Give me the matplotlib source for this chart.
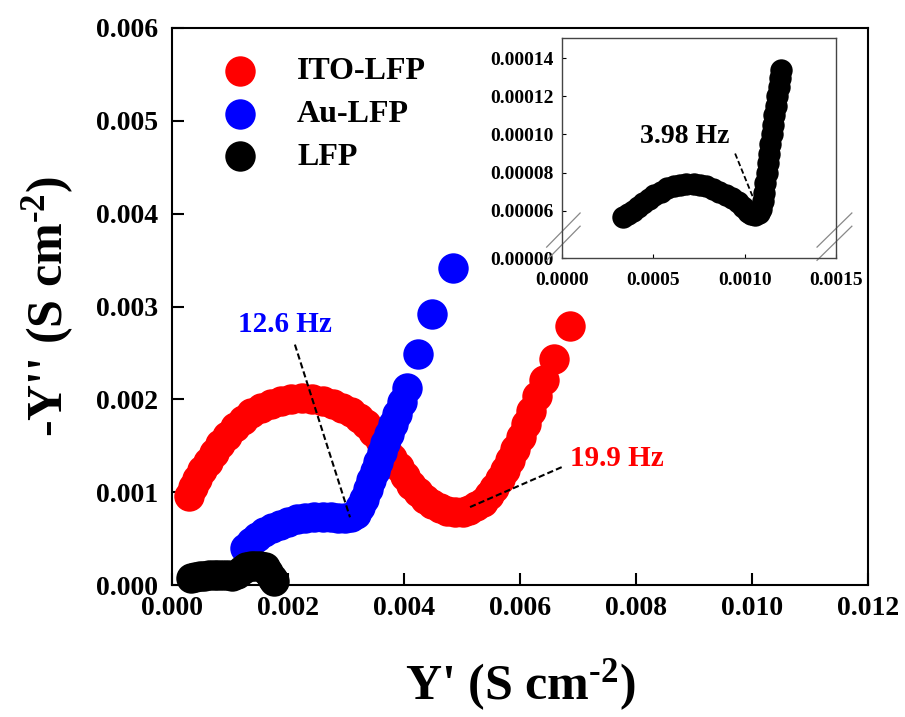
import numpy as np
import matplotlib
matplotlib.use("Agg")
import matplotlib.pyplot as plt
from matplotlib.ticker import FormatStrFormatter, FixedLocator

plt.rcParams['font.family'] = 'Liberation Serif'
plt.rcParams['font.weight'] = 'bold'
plt.rcParams['mathtext.fontset'] = 'custom'
plt.rcParams['mathtext.rm'] = 'Liberation Serif:bold'
plt.rcParams['mathtext.bf'] = 'Liberation Serif:bold'
plt.rcParams['mathtext.default'] = 'bf'

# ITO-LFP (x, y in units of 1e-3 S cm-2)
ito_x = [0.30, 0.36, 0.43, 0.52, 0.62, 0.72, 0.83, 0.95, 1.08, 1.22, 1.37, 1.53, 1.70, 1.88,
         2.06, 2.24, 2.42, 2.60, 2.77, 2.93, 3.08, 3.22, 3.35, 3.47, 3.58, 3.69, 3.80, 3.91,
         4.02, 4.13, 4.25, 4.37, 4.49, 4.62, 4.75, 4.88, 5.01, 5.13, 5.25, 5.36, 5.46, 5.56,
         5.65, 5.74, 5.83, 5.92, 6.01, 6.10, 6.19, 6.29, 6.41, 6.58, 6.86]
ito_y = [0.96, 1.06, 1.14, 1.24, 1.33, 1.42, 1.52, 1.61, 1.70, 1.78, 1.85, 1.91, 1.95, 1.98,
         2.00, 2.01, 2.00, 1.98, 1.95, 1.91, 1.86, 1.80, 1.73, 1.65, 1.56, 1.47, 1.37, 1.27,
         1.17, 1.08, 1.00, 0.93, 0.87, 0.83, 0.80, 0.79, 0.79, 0.81, 0.85, 0.90, 0.97, 1.05,
         1.14, 1.24, 1.35, 1.47, 1.60, 1.74, 1.88, 2.04, 2.21, 2.43, 2.79]

# Au-LFP
au_x = [1.26, 1.36, 1.47, 1.59, 1.72, 1.86, 2.00, 2.15, 2.30, 2.45, 2.60, 2.74, 2.87, 2.98,
        3.08, 3.17, 3.25, 3.32, 3.38, 3.44, 3.50, 3.56, 3.62, 3.68, 3.74, 3.81, 3.88, 3.96,
        4.05, 4.24, 4.48, 4.84]
au_y = [0.40, 0.46, 0.52, 0.57, 0.61, 0.65, 0.68, 0.71, 0.72, 0.73, 0.73, 0.73, 0.72, 0.72,
        0.73, 0.77, 0.84, 0.93, 1.03, 1.13, 1.23, 1.33, 1.43, 1.53, 1.63, 1.73, 1.84, 1.97,
        2.12, 2.49, 2.92, 3.41]

# LFP
lfp_x = [0.32, 0.40, 0.48, 0.56, 0.64, 0.72, 0.80, 0.88, 0.96, 1.04, 1.12, 1.20, 1.28, 1.36,
         1.44, 1.52, 1.60, 1.66, 1.72, 1.76]
lfp_y = [0.08, 0.09, 0.10, 0.10, 0.11, 0.11, 0.11, 0.11, 0.11, 0.10, 0.12, 0.16, 0.19, 0.21,
         0.21, 0.21, 0.19, 0.14, 0.08, 0.04]

# LFP inset (x in 1e-3, y in 1e-5)
ins_x = [0.336, 0.36, 0.39, 0.415, 0.445, 0.475, 0.505, 0.54, 0.575, 0.61, 0.645, 0.68, 0.72,
         0.755, 0.79, 0.825, 0.86, 0.895, 0.93, 0.96, 0.99, 1.015, 1.035, 1.056, 1.075, 1.09,
         1.10, 1.105, 1.112, 1.12, 1.126, 1.133, 1.14, 1.148, 1.155, 1.162, 1.17, 1.178, 1.186,
         1.193, 1.20]
ins_y = [5.25, 5.6, 5.95, 6.2, 6.42, 6.62, 6.82, 7.0, 7.17, 7.28, 7.35, 7.4, 7.41, 7.37, 7.28,
         7.15, 7.0, 6.85, 6.68, 6.45, 6.2, 5.9, 5.65, 5.5, 5.7, 6.1, 6.5, 6.95, 7.45, 8.0, 8.5,
         9.0, 9.5, 10.0, 10.5, 11.0, 11.5, 12.0, 12.5, 12.95, 13.35]

main_xticks = [0.000, 0.002, 0.004, 0.006, 0.008, 0.010, 0.012]
main_yticks = [0.000, 0.001, 0.002, 0.003, 0.004, 0.005, 0.006]
ins_xticks = [0.0, 0.0005, 0.0010, 0.0015]
ins_yticks = [0.0, 0.00006, 0.00008, 0.00010, 0.00012, 0.00014]

# annotations: label, text position, leader line ends
blue_note = ("12.6 Hz", (0.00195, 0.00281), [0.00212, 0.00307], [0.00259, 0.00073])
red_note = ("19.9 Hz", (0.00767, 0.00136), [0.00672, 0.00514], [0.00127, 0.00084])
ins_note = ("3.98 Hz", (0.000673, 0.0000991), [0.000947, 0.001047], [0.000090, 0.0000665])

fig = plt.figure(figsize=(9.05, 7.17), dpi=100)
ax = fig.add_axes([0.190, 0.184, 0.769, 0.777])

s_main = 480
ax.scatter(np.array(ito_x) * 1e-3, np.array(ito_y) * 1e-3, s=s_main, color='#ff0000',
           linewidths=0, label='ITO-LFP', clip_on=False, zorder=3)
ax.scatter(np.array(au_x) * 1e-3, np.array(au_y) * 1e-3, s=s_main, color='#0000ff',
           linewidths=0, label='Au-LFP', clip_on=False, zorder=4)
ax.scatter(np.array(lfp_x) * 1e-3, np.array(lfp_y) * 1e-3, s=s_main, color='black',
           linewidths=0, label='LFP', clip_on=False, zorder=5)

for note, col in [(blue_note, '#0000ff'), (red_note, '#ff0000')]:
    label, pos, lx, ly = note
    ax.plot(lx, ly, ls=(0, (3, 1.5)), color='black', lw=1.5, zorder=6)
    ax.text(pos[0], pos[1], label, color=col, fontsize=21, ha='center', va='center',
            fontweight='bold', zorder=7)

ax.set_xlim(0, 0.012)
ax.set_ylim(0, 0.006)
ax.set_xticks(main_xticks)
ax.set_yticks(main_yticks)
ax.xaxis.set_major_formatter(FormatStrFormatter('%.3f'))
ax.yaxis.set_major_formatter(FormatStrFormatter('%.3f'))
ax.tick_params(direction='in', length=8.5, width=1.5, labelsize=20)
ax.tick_params(axis='y', pad=10)
ax.tick_params(axis='x', pad=8)
for sp in ax.spines.values():
    sp.set_linewidth(1.5)

ax.set_xlabel(r"Y' (S cm$^{\text{-2}}$)", fontsize=36, fontweight='bold', labelpad=26)
ax.set_ylabel(r"-Y'' (S cm$^{\text{-2}}$)", fontsize=36, fontweight='bold', labelpad=14)

ax.legend(loc='upper left', bbox_to_anchor=(0.033, 0.971), frameon=False, fontsize=23,
          handletextpad=0.8, labelspacing=0.42, borderaxespad=0, scatterpoints=1)

# inset with a broken y axis
K = 0.413
Y0 = 0.00006


def fwd(y):
    y = np.asarray(y, dtype=float)
    return np.where(y >= Y0, y, Y0 - (Y0 - y) * K)


def inv(u):
    u = np.asarray(u, dtype=float)
    return np.where(u >= Y0, u, Y0 - (Y0 - u) / K)


axi = fig.add_axes([0.621, 0.640, 0.303, 0.307])
axi.set_yscale('function', functions=(fwd, inv))
axi.scatter(np.array(ins_x) * 1e-3, np.array(ins_y) * 1e-5, s=260, color='black',
            linewidths=0, zorder=3)
label, pos, lx, ly = ins_note
axi.plot(lx, ly, ls=(0, (3, 1.5)), color='black', lw=1.3, zorder=4)
axi.text(pos[0], pos[1], label, fontsize=20, ha='center', va='center', fontweight='bold')
axi.set_xlim(0, 0.0015)
axi.set_ylim(0, 0.0001505)
axi.xaxis.set_major_locator(FixedLocator(ins_xticks))
axi.yaxis.set_major_locator(FixedLocator(ins_yticks))
axi.yaxis.set_minor_locator(FixedLocator([]))
axi.xaxis.set_major_formatter(FormatStrFormatter('%.4f'))
axi.yaxis.set_major_formatter(FormatStrFormatter('%.5f'))
axi.tick_params(direction='in', length=3, width=0.8, labelsize=14, pad=6)
axi.tick_params(axis='x', pad=10)
for sp in axi.spines.values():
    sp.set_linewidth(1.0)
    sp.set_color('#444444')

# break marks
for x0, x1 in [(-0.056, 0.066), (0.93, 1.057)]:
    for dy in (0.0, -0.06):
        axi.plot([x0, x1], [0.05 + dy, 0.205 + dy], transform=axi.transAxes,
                 color='#888888', lw=0.9, clip_on=False)

fig.savefig('out.png', dpi=100)
